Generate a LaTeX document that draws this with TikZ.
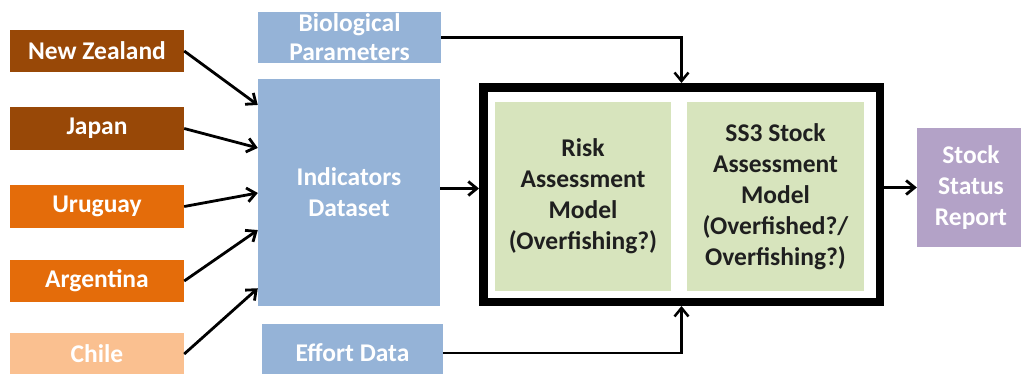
\documentclass[tikz,border=0pt]{standalone}
\usepackage{fontspec}
\setmainfont{Carlito}
\usetikzlibrary{arrows.meta,calc}
\definecolor{brownc}{HTML}{984807}
\definecolor{orangec}{HTML}{E46C0A}
\definecolor{lightorange}{HTML}{FAC090}
\definecolor{bluec}{HTML}{95B3D7}
\definecolor{greenc}{HTML}{D7E4BD}
\definecolor{purplec}{HTML}{B3A2C7}
\definecolor{darktext}{HTML}{1F1F1F}
\begin{document}
\begin{tikzpicture}[x=1pt,y=-1pt,
  basebox/.style={inner sep=0pt, align=center, font=\fontsize{25.5}{31}\selectfont\bfseries},
  cbox/.style={basebox, text=white, minimum width=174pt, minimum height=42pt},
  bbox/.style={basebox, text=white, fill=bluec},
  gbox/.style={basebox, text=darktext, fill=greenc, minimum width=176pt, minimum height=189pt},
  frame/.style={draw=black, line width=8.5pt, minimum width=396.5pt, minimum height=214.5pt, inner sep=0pt},
  arr/.style={line width=2.8pt, -{Straight Barb[length=8.5pt,width=14pt]}},
  link/.style={line width=2.5pt, -{Straight Barb[length=8.5pt,width=14pt]}}
]
\useasboundingbox (0,0) rectangle (1021,373);
\clip (0,0) rectangle (1021,373);

% country boxes
\node[cbox, fill=brownc] (nz) at (97,51) {New Zealand};
\node[cbox, fill=brownc, minimum height=43pt] (jp) at (97,128.5) {Japan};
\node[cbox, fill=orangec, minimum height=43pt] (uy) at (97,206.5) {Uruguay};
\node[cbox, fill=orangec] (ar) at (97,281) {Argentina};
\node[cbox, fill=lightorange] (cl) at (97,354) {Chile};

% blue boxes
\node[bbox, minimum width=183pt, minimum height=51pt, font=\fontsize{25.5}{29}\selectfont\bfseries] (bio) at (349.5,37.5) {Biological\\Parameters};
\node[bbox, minimum width=182pt, minimum height=227pt] (ind) at (349,192.5) {Indicators\\Dataset};
\node[bbox, minimum width=181pt, minimum height=58pt] (eff) at (352.5,353) {Effort Data};

% frame with models
\node[frame] (frame) at (681.5,194.5) {};
\node[gbox] (risk) at (583,196.5) {Risk\\Assessment\\Model\\(Overfishing?)};
\node[gbox, minimum width=177pt] (ss3) at (775.5,196.5) {SS3 Stock\\Assessment\\Model\\(Overfished?/\\Overfishing?)};

% report
\node[basebox, text=white, fill=purplec, minimum width=108pt, minimum height=119pt] (rep) at (971,187.5) {Stock\\Status\\Report};

% connectors
\draw[arr] (nz.east) -- ($(ind.north west)!0.115!(ind.south west)$);
\draw[arr] (jp.east) -- ($(ind.north west)!0.304!(ind.south west)$);
\draw[arr] (uy.east) -- ($(ind.north west)!0.502!(ind.south west)$);
\draw[arr] (ar.east) -- ($(ind.north west)!0.665!(ind.south west)$);
\draw[arr] (cl.east) -- ($(ind.north west)!0.921!(ind.south west)$);

\draw[link] (bio.east) -| (frame.north);
\draw[link] (eff.east) -| (frame.south);
\draw[arr] ($(ind.east)+(0,-4)$) -- ($(ind.east -| frame.west)+(0,-4)$);
\draw[arr] (rep.west -| frame.east) -- (rep.west);
\end{tikzpicture}
\end{document}
